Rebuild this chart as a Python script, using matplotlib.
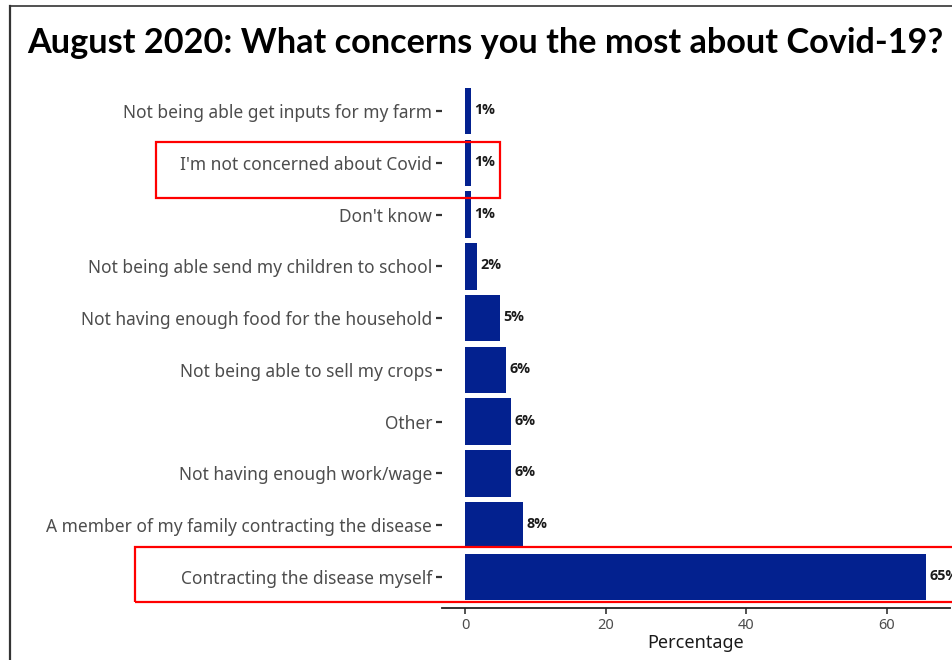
import matplotlib
matplotlib.use('Agg')
import matplotlib.pyplot as plt
from matplotlib.patches import Rectangle
from matplotlib.lines import Line2D

# categories from top to bottom, as in the chart
concerns = [
    'Not being able get inputs for my farm',
    "I'm not concerned about Covid",
    "Don't know",
    'Not being able send my children to school',
    'Not having enough food for the household',
    'Not being able to sell my crops',
    'Other',
    'Not having enough work/wage',
    'A member of my family contracting the disease',
    'Contracting the disease myself',
]
percent = [0.85, 0.85, 0.8, 1.7, 5.0, 5.8, 6.5, 6.5, 8.2, 65.6]
labels = ['1%', '1%', '1%', '2%', '5%', '6%', '6%', '6%', '8%', '65%']
x_ticks = [0, 20, 40, 60]
highlighted = ["I'm not concerned about Covid", 'Contracting the disease myself']

bar_color = '#03218f'
tick_grey = '#4d4d4d'

plt.rcParams['font.family'] = ['Noto Sans', 'DejaVu Sans']

fig = plt.figure(figsize=(9.52, 6.6), dpi=100)
W, H = 952, 660
ax = fig.add_axes([442 / W, 1 - 608 / H, (949.6 - 442) / W, (608 - 80) / H])

n = len(concerns)
ypos = list(range(n - 1, -1, -1))
ax.barh(ypos, percent, height=0.9, color=bar_color)
for y, v, t in zip(ypos, percent, labels):
    ax.text(v + 0.5, y + 0.02, t, ha='left', va='center', fontsize=10.3,
            fontweight='bold', family=['Open Sans', 'DejaVu Sans'], color='#1a1a1a')

ax.set_xlim(-3.28, 68.9)
ax.set_ylim(-0.6, n - 1 + 0.6)
ax.set_yticks(ypos)
ax.set_yticklabels(concerns, fontsize=12.5, color=tick_grey)
ax.set_xticks(x_ticks)
ax.set_xticklabels([str(t) for t in x_ticks], fontsize=10.5, color=tick_grey)
ax.tick_params(axis='y', length=4, width=1.6, color='#333333', pad=3)
ax.tick_params(axis='x', length=4, width=1.2, color='#333333', pad=3)
for s in ['top', 'right', 'left']:
    ax.spines[s].set_visible(False)
ax.spines['bottom'].set_linewidth(1.3)
ax.spines['bottom'].set_color('#222222')
ax.set_xlabel('Percentage', fontsize=13, color='#1a1a1a', labelpad=1)

# red highlight boxes around two of the answers
boxes = {highlighted[0]: (-43.95, 4.98, 0.40, 0.68),
         highlighted[1]: (-46.9, 72.0, 0.58, 0.48)}
for name, (x0, x1, up, down) in boxes.items():
    y = ypos[concerns.index(name)]
    ax.add_patch(Rectangle((x0, y - down), x1 - x0, up + down, fill=False,
                           edgecolor='#ff0000', linewidth=1.6, clip_on=False))

# title and frame of the screenshot
fig.text(485 / W, 1 - 43 / H, 'August 2020: What concerns you the most about Covid-19?',
         ha='center', va='center', fontsize=24.7, fontweight='bold',
         family=['Lato', 'DejaVu Sans'], color='#000000')
fig.add_artist(Line2D([9.5 / W, 9.5 / W], [0, 1 - 6 / H], transform=fig.transFigure,
                      color='#333333', linewidth=1.6))
fig.add_artist(Line2D([9.5 / W, 1], [1 - 6 / H, 1 - 6 / H], transform=fig.transFigure,
                      color='#333333', linewidth=1.2))

fig.savefig('out.png', dpi=100)
